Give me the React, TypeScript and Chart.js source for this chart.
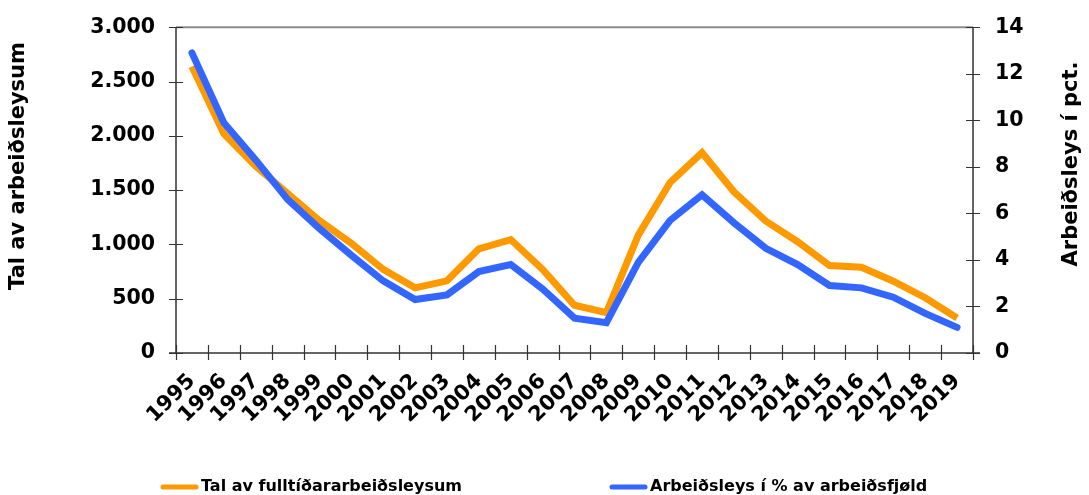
import React, { useEffect, useRef } from 'react';
import { Chart, registerables } from 'chart.js';

Chart.register(...registerables);

const years = ['1995','1996','1997','1998','1999','2000','2001','2002','2003','2004','2005','2006','2007','2008','2009','2010','2011','2012','2013','2014','2015','2016','2017','2018','2019'];
const fullTimeUnemployed = [2640, 2020, 1720, 1470, 1220, 1010, 770, 600, 665, 960, 1045, 770, 440, 372, 1085, 1570, 1845, 1485, 1215, 1025, 806, 790, 661, 509, 322];
const unemploymentPct = [12.9, 9.9, 8.3, 6.6, 5.35, 4.2, 3.1, 2.3, 2.5, 3.5, 3.8, 2.75, 1.5, 1.3, 3.9, 5.7, 6.8, 5.6, 4.5, 3.8, 2.9, 2.8, 2.4, 1.7, 1.1];

const seriesNames = ['Tal av fulltíðararbeiðsleysum', 'Arbeiðsleys í % av arbeiðsfjøld'];
const leftTitle = 'Tal av arbeiðsleysum';
const rightTitle = 'Arbeiðsleys í pct.';

const ORANGE = '#FF9900';
const BLUE = '#3366FF';
const FONT = "'DejaVu Sans', Verdana, sans-serif";

const fmtThousands = (v: number) => String(v).replace(/\B(?=(\d{3})+(?!\d))/g, '.');

const decorPlugin = {
  id: 'decor',
  beforeDatasetsDraw(chart: any) {
    const { ctx, chartArea, scales } = chart;
    const { left, right, top, bottom } = chartArea;
    ctx.save();
    ctx.strokeStyle = '#8c8c8c';
    ctx.lineWidth = 2;
    ctx.beginPath();
    ctx.moveTo(left, top);
    ctx.lineTo(right, top);
    ctx.stroke();
    ctx.strokeStyle = '#333';
    ctx.lineWidth = 1.5;
    ctx.beginPath();
    ctx.moveTo(left, top);
    ctx.lineTo(left, bottom);
    ctx.moveTo(right, top);
    ctx.lineTo(right, bottom);
    ctx.moveTo(left - 7, bottom);
    ctx.lineTo(right + 7, bottom);
    ctx.stroke();
    ctx.lineWidth = 1.2;
    ctx.beginPath();
    scales.y.ticks.forEach((t: any) => {
      const py = Math.round(scales.y.getPixelForValue(t.value)) + 0.5;
      ctx.moveTo(left - 7, py);
      ctx.lineTo(left + 7, py);
    });
    scales.y1.ticks.forEach((t: any) => {
      const py = Math.round(scales.y1.getPixelForValue(t.value)) + 0.5;
      ctx.moveTo(right - 7, py);
      ctx.lineTo(right + 7, py);
    });
    const xs = scales.x;
    const half = (xs.getPixelForValue(1) - xs.getPixelForValue(0)) / 2;
    for (let i = 0; i <= years.length; i++) {
      const px = Math.round(xs.getPixelForValue(i) - half) + 0.5;
      ctx.moveTo(px, bottom - 8);
      ctx.lineTo(px, bottom + 7);
    }
    ctx.stroke();
    ctx.restore();
  },
  afterDraw(chart: any) {
    const { ctx } = chart;
    ctx.save();
    ctx.fillStyle = '#000';
    ctx.font = `bold 21px ${FONT}`;
    ctx.textAlign = 'center';
    ctx.textBaseline = 'middle';
    ctx.save();
    ctx.translate(19, 166);
    ctx.rotate(-Math.PI / 2);
    ctx.fillText(leftTitle, 0, 0);
    ctx.restore();
    ctx.save();
    ctx.translate(1072, 164);
    ctx.rotate(-Math.PI / 2);
    ctx.fillText(rightTitle, 0, 0);
    ctx.restore();
    const items = [
      { x: 163, color: ORANGE, text: seriesNames[0] },
      { x: 612, color: BLUE, text: seriesNames[1] },
    ];
    ctx.font = `bold 16px ${FONT}`;
    ctx.textAlign = 'left';
    items.forEach((it) => {
      ctx.strokeStyle = it.color;
      ctx.lineWidth = 5;
      ctx.lineCap = 'round';
      ctx.beginPath();
      ctx.moveTo(it.x, 487);
      ctx.lineTo(it.x + 33, 487);
      ctx.stroke();
      ctx.fillText(it.text, it.x + 38, 487);
    });
    ctx.restore();
  },
};

export default function App() {
  const ref = useRef<HTMLCanvasElement>(null);
  useEffect(() => {
    if (!ref.current) return;
    const chart = new Chart(ref.current, {
      type: 'line',
      data: {
        labels: years,
        datasets: [
          {
            label: seriesNames[0],
            data: fullTimeUnemployed,
            borderColor: ORANGE,
            backgroundColor: ORANGE,
            borderWidth: 7,
            pointRadius: 0,
            tension: 0,
            yAxisID: 'y',
            order: 2,
            borderCapStyle: 'butt',
          },
          {
            label: seriesNames[1],
            data: unemploymentPct,
            borderColor: BLUE,
            backgroundColor: BLUE,
            borderWidth: 7,
            pointRadius: 0,
            tension: 0,
            yAxisID: 'y1',
            order: 1,
            borderCapStyle: 'round',
          },
        ],
      },
      options: {
        responsive: false,
        animation: false,
        layout: { padding: { top: 22, left: 0, right: 0, bottom: 0 } },
        plugins: { legend: { display: false }, tooltip: { enabled: false } },
        scales: {
          x: {
            offset: true,
            grid: { display: false, drawTicks: true, tickLength: 7, offset: true },
            border: { display: false },
            ticks: {
              autoSkip: false,
              maxRotation: 45,
              minRotation: 45,
              padding: 9,
              color: '#000',
              font: { family: FONT, weight: 'bold', size: 21 },
            },
            afterFit: (s: any) => { s.height = 142; },
          },
          y: {
            position: 'left',
            min: 0,
            max: 3000,
            grid: { display: false, drawTicks: true, tickLength: 7 },
            border: { display: false },
            ticks: {
              stepSize: 500,
              padding: 14,
              color: '#000',
              font: { family: FONT, weight: 'bold', size: 20.5 },
              callback: (v: any) => fmtThousands(Number(v)),
            },
            afterFit: (s: any) => { s.width = 176; },
          },
          y1: {
            position: 'right',
            min: 0,
            max: 14,
            grid: { display: false, drawTicks: true, tickLength: 7 },
            border: { display: false },
            ticks: {
              stepSize: 2,
              padding: 15,
              color: '#000',
              font: { family: FONT, weight: 'bold', size: 20.5 },
            },
            afterFit: (s: any) => { s.width = 116; },
          },
        },
      },
      plugins: [decorPlugin],
    });
    return () => chart.destroy();
  }, []);
  return (
    <div style={{ position: 'absolute', left: 0, top: 0, width: 1089, height: 495, background: '#fff' }}>
      <canvas ref={ref} width={1089} height={495} style={{ display: 'block' }} />
    </div>
  );
}
